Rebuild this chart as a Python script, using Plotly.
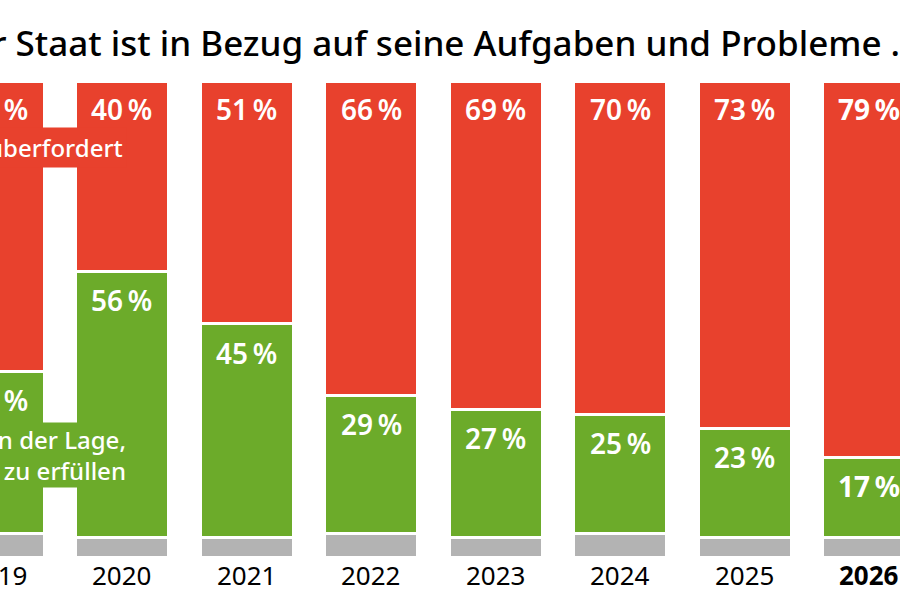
import plotly.graph_objects as go

# Umfrage: Der Staat ist in Bezug auf seine Aufgaben und Probleme ...
years = ["2019", "2020", "2021", "2022", "2023", "2024", "2025", "2026"]
year_labels = ["2019", "2020", "2021", "2022", "2023", "2024", "2025", "<b>2026</b>"]
ueberfordert = [61, 40, 51, 66, 69, 70, 73, 79]
in_der_lage = [34, 56, 45, 29, 27, 25, 23, 17]
weiss_nicht = [5, 4, 4, 5, 4, 5, 4, 4]

RED = "#E8412D"
GREEN = "#6CAB2A"
GRAY = "#B3B3B3"
FONT = "Noto Sans"

pos = list(range(len(years)))
bw = 0.747
# sichtbarer Ausschnitt: 2019 und 2026 sind angeschnitten
X0 = 2.5 / 124.5
X1 = X0 + 900 / 124.5


def xpaper(i):
    return (i - X0) / (X1 - X0)


fig = go.Figure()
for vals, col, name in [(weiss_nicht, GRAY, "weiß nicht"),
                        (in_der_lage, GREEN, "in der Lage"),
                        (ueberfordert, RED, "überfordert")]:
    fig.add_trace(go.Bar(x=pos, y=vals, name=name, width=bw,
                         marker=dict(color=col, line=dict(color="white", width=3)),
                         hoverinfo="skip"))

# Prozent-Beschriftungen und Jahre
for i in pos:
    last = i == len(years) - 1
    w = 700 if last else 600
    top = weiss_nicht[i] + in_der_lage[i] + ueberfordert[i]
    fig.add_annotation(xref="paper", x=xpaper(i), xanchor="center", y=top, yshift=-28,
                       text=f"{ueberfordert[i]}\u202f%", showarrow=False, yanchor="middle",
                       font=dict(family=FONT, size=28, color="white", weight=w))
    fig.add_annotation(xref="paper", x=xpaper(i), xanchor="center",
                       y=weiss_nicht[i] + in_der_lage[i], yshift=-29,
                       text=f"{in_der_lage[i]}\u202f%", showarrow=False, yanchor="middle",
                       font=dict(family=FONT, size=28, color="white", weight=w))
    fig.add_annotation(xref="paper", x=xpaper(i), xanchor="center", y=0, yshift=-18,
                       yanchor="middle", text=year_labels[i], showarrow=False,
                       font=dict(family=FONT, size=26, color="black"))

# Kategorie-Labels
fig.add_annotation(x=1.04, y=86.0, xanchor="right", yanchor="middle",
                   text="überfordert", showarrow=False, bgcolor=RED, borderpad=3,
                   font=dict(family=FONT, size=24, color="white", weight=500))
fig.add_annotation(x=1.04, y=21.5, xanchor="right", yanchor="middle", align="right",
                   text="in der Lage,<br>seine Aufgaben zu erfüllen", showarrow=False,
                   bgcolor=GREEN, borderpad=0,
                   font=dict(family=FONT, size=24, color="white", weight=500))

# Titel
fig.add_annotation(xref="paper", yref="paper", x=-0.062, y=1.080, xanchor="left",
                   yanchor="middle", showarrow=False,
                   text="Der Staat ist in Bezug auf seine Aufgaben und Probleme . . .",
                   font=dict(family=FONT, size=35, color="black", weight=500))

fig.update_layout(
    width=900, height=600,
    barmode="stack", showlegend=False,
    margin=dict(l=0, r=0, t=81, b=43),
    paper_bgcolor="white", plot_bgcolor="white",
    xaxis=dict(range=[X0, X1], visible=False),
    yaxis=dict(range=[0, 100], visible=False),
)

# Seitenrand des Browsers entfernen, damit der Ausschnitt bei 0/0 beginnt
fig.write_html("out.html", config={"displayModeBar": False},
               post_script="document.body.style.margin='0';")
